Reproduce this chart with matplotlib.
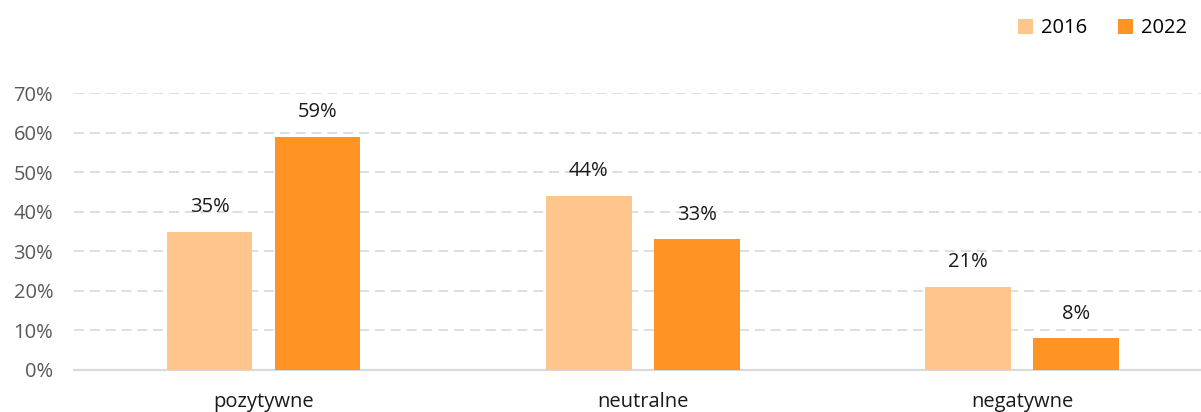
import numpy as np
import matplotlib
matplotlib.use("Agg")
import matplotlib.pyplot as plt
from matplotlib.ticker import FuncFormatter

# data
categories = ["pozytywne", "neutralne", "negatywne"]
series_names = ["2016", "2022"]
values_2016 = [0.35, 0.44, 0.21]
values_2022 = [0.59, 0.33, 0.08]
colors = ["#FFC58D", "#FF9425"]

plt.rcParams["font.family"] = ["Open Sans", "DejaVu Sans"]

fig = plt.figure(figsize=(12.01, 4.12), dpi=100)
ax = fig.add_axes([0.0616, 0.102, 0.938, 0.672])

x = np.arange(len(categories))
width = 0.225
offsets = [-0.142, 0.143]

for vals, name, off, col in zip([values_2016, values_2022], series_names, offsets, colors):
    bars = ax.bar(x + off, vals, width, color=col, label=name, zorder=3)
    for b, v in zip(bars, vals):
        ax.text(b.get_x() + b.get_width() / 2, v + 0.037, f"{v*100:.0f}%",
                ha="center", va="bottom", fontsize=14.5, color="#1a1a1a")

ax.set_xlim(-0.5, 2.471)
ax.set_ylim(0, 0.7)
ax.set_yticks(np.arange(0, 0.71, 0.1))
ax.yaxis.set_major_formatter(FuncFormatter(lambda v, p: f"{v*100:.0f}%"))
ax.set_xticks(x)
ax.set_xticklabels(categories, fontsize=14.5, color="#1a1a1a")
ax.tick_params(axis="y", labelsize=14.5, labelcolor="#595959", length=0, pad=15)
ax.tick_params(axis="x", length=0, pad=16)

ax.grid(axis="y", color="#D9D9D9", linestyle=(0, (6, 3.5)), linewidth=1.2, zorder=0)
for s in ["top", "right", "left"]:
    ax.spines[s].set_visible(False)
ax.spines["bottom"].set_color("#D9D9D9")
ax.spines["bottom"].set_linewidth(1.5)

fig.legend(loc="upper right", bbox_to_anchor=(1.0, 0.99), ncol=2, frameon=False,
           fontsize=14.5, handlelength=0.75, handleheight=0.75, columnspacing=1.5,
           handletextpad=0.4, borderaxespad=0.3)

fig.savefig("out.png", dpi=100)
